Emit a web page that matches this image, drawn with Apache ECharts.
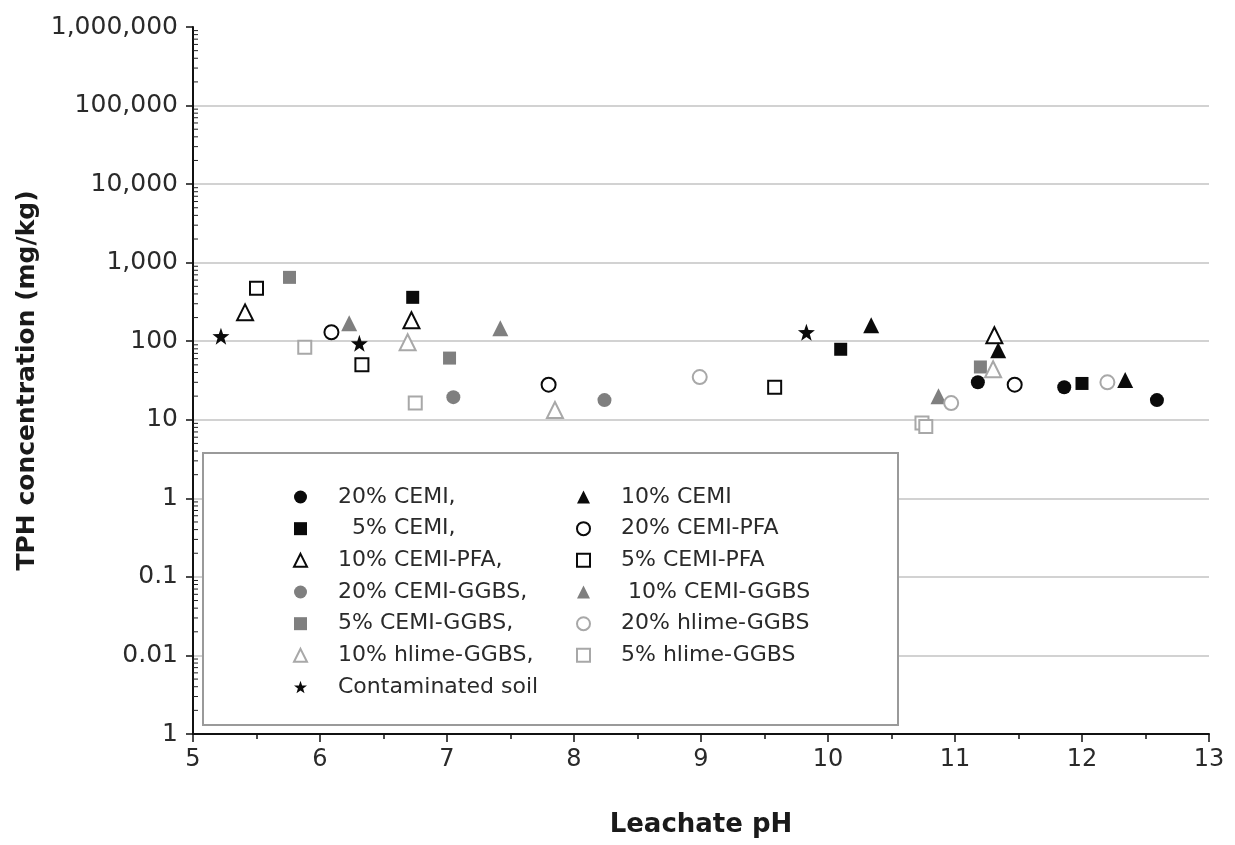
<!DOCTYPE html>
<html>
<head>
<meta charset="utf-8">
<script src="https://cdn.jsdelivr.net/npm/echarts@6/dist/echarts.min.js"></script>
<style>html,body{margin:0;padding:0;background:#fff}#c{width:1235px;height:845px}</style>
</head>
<body>
<div id="c"></div>
<script>
// ---- data (pH, TPH mg/kg) ----
const cemi20      = [[11.18,30],[11.86,26],[12.59,17.8]];
const cemi5       = [[6.73,362],[10.10,79],[12.00,29]];
const cemiPfa10   = [[5.41,233],[6.72,185],[11.31,119]];
const cemiGgbs20  = [[7.05,19.4],[8.24,17.8]];
const cemiGgbs5   = [[5.76,650],[7.02,61],[11.20,47]];
const hlimeGgbs10 = [[6.69,97],[7.85,13.3],[11.30,44]];
const soil        = [[5.22,116],[6.31,94],[9.83,130]];
const cemi10      = [[10.34,160],[11.34,77],[12.34,32]];
const cemiPfa20   = [[6.09,130],[7.80,28],[11.47,28]];
const cemiPfa5    = [[5.50,471],[6.33,50],[9.58,26]];
const cemiGgbs10  = [[6.23,169],[7.42,146],[10.87,20]];
const hlimeGgbs20 = [[8.99,35],[10.97,16.3],[12.20,30]];
const hlimeGgbs5  = [[5.88,84],[6.75,16.3],[10.74,9.1],[10.77,8.2]];

const legendCol1 = ['20% CEMI,', '  5% CEMI,', '10% CEMI-PFA,', '20% CEMI-GGBS,', '5% CEMI-GGBS,', '10% hlime-GGBS,', 'Contaminated soil'];
const legendCol2 = ['10% CEMI', '20% CEMI-PFA', '5% CEMI-PFA', ' 10% CEMI-GGBS', '20% hlime-GGBS', '5% hlime-GGBS'];

const yTickLabels = ['1','0.01','0.1','1','10','100','1,000','10,000','100,000','1,000,000'];
const yDecades = [0.001,0.01,0.1,1,10,100,1000,10000,100000];

const FONT = 'DejaVu Sans';
const STAR = 'path://M0,-10 L2.35,-3.24 L9.51,-3.09 L3.8,1.24 L5.88,8.09 L0,4 L-5.88,8.09 L-3.8,1.24 L-9.51,-3.09 L-2.35,-3.24 Z';

const BLACK = '#0a0a0a', GREY = '#7f7f7f', LIGHT = '#a8a8a8';

function sc(name, data, symbol, size, style) {
  return { type:'scatter', name, data, symbol, symbolSize:size, itemStyle:style, z:4 };
}
const filled = c => ({ color:c, borderColor:c, borderWidth:0, opacity:1 });
const open = c => ({ color:'#fff', borderColor:c, borderWidth:2, opacity:1 });

const series = [
  sc(legendCol1[0], cemi20, 'circle', 14, filled(BLACK)),
  sc(legendCol1[1], cemi5, 'rect', 13, filled(BLACK)),
  sc(legendCol1[2], cemiPfa10, 'triangle', 16, open(BLACK)),
  sc(legendCol1[3], cemiGgbs20, 'circle', 14, filled(GREY)),
  sc(legendCol1[4], cemiGgbs5, 'rect', 13, filled(GREY)),
  sc(legendCol1[5], hlimeGgbs10, 'triangle', 16, open(LIGHT)),
  sc(legendCol1[6], soil, STAR, 17, filled(BLACK)),
  sc(legendCol2[0], cemi10, 'triangle', 16, filled(BLACK)),
  sc(legendCol2[1], cemiPfa20, 'circle', 14, open(BLACK)),
  sc(legendCol2[2], cemiPfa5, 'rect', 13, open(BLACK)),
  sc(legendCol2[3], cemiGgbs10, 'triangle', 16, filled(GREY)),
  sc(legendCol2[4], hlimeGgbs20, 'circle', 14, open(LIGHT)),
  sc(legendCol2[5], hlimeGgbs5, 'rect', 13, open(LIGHT)),
  {
    type:'custom', name:'minorTicks', silent:true, clip:false, z:5,
    data: yDecades.map(d => [5, d]),
    renderItem: function(params, api) {
      const dec = api.value(1);
      const children = [];
      for (let m = 2; m <= 9; m++) {
        const p = api.coord([5, dec*m]);
        children.push({ type:'line', shape:{x1:p[0], y1:p[1], x2:p[0]+5, y2:p[1]}, style:{stroke:'#222', lineWidth:1} });
      }
      return { type:'group', children };
    }
  }
];

const legendBase = {
  orient:'vertical', itemWidth:13, itemHeight:13, itemGap:9.67, padding:0,
  selectedMode:false, z:10,
  textStyle:{ fontFamily:FONT, fontSize:22, color:'#2a2a2a', lineHeight:22, padding:[0,0,0,26] }
};

const chart = echarts.init(document.getElementById('c'), null, {renderer:'canvas'});
chart.setOption({
  animation:false,
  backgroundColor:'#fff',
  grid:{ left:193, right:26, top:27, bottom:111 },
  graphic:[{
    type:'rect', z:8,
    shape:{ x:203, y:453, width:695, height:272 },
    style:{ fill:'#fff', stroke:'#9a9a9a', lineWidth:2 }
  }],
  legend:[
    Object.assign({}, legendBase, { left:293, top:486, data:legendCol1 }),
    Object.assign({}, legendBase, { left:576, top:486, data:legendCol2 })
  ],
  xAxis:{
    type:'value', min:5, max:13, interval:1,
    name:'Leachate pH', nameLocation:'middle', nameGap:78,
    nameTextStyle:{ fontFamily:FONT, fontSize:26, fontWeight:'bold', color:'#1a1a1a' },
    axisLine:{ show:true, onZero:false, lineStyle:{ color:'#111', width:2 } },
    axisTick:{ show:true, length:8, lineStyle:{ color:'#111', width:1.5 } },
    minorTick:{ show:true, splitNumber:2, length:5, lineStyle:{ color:'#111', width:1.5 } },
    axisLabel:{ fontFamily:FONT, fontSize:24, color:'#2a2a2a', margin:14 },
    splitLine:{ show:false }
  },
  yAxis:{
    type:'log', logBase:10, min:0.001, max:1000000, splitNumber:9,
    name:'TPH concentration (mg/kg)', nameLocation:'middle', nameGap:149,
    nameTextStyle:{ fontFamily:FONT, fontSize:25, fontWeight:'bold', color:'#1a1a1a' },
    axisLine:{ show:true, lineStyle:{ color:'#111', width:2 } },
    axisTick:{ show:true, length:7, lineStyle:{ color:'#111', width:1.5 } },
    axisLabel:{ fontFamily:FONT, fontSize:25, color:'#2a2a2a', margin:15,
      formatter: v => yTickLabels[Math.round(Math.log10(v)) + 3] },
    splitLine:{ show:true, showMinLine:false, showMaxLine:false, lineStyle:{ color:'#d2d2d2', width:2 } }
  },
  series
});
</script>
</body>
</html>
